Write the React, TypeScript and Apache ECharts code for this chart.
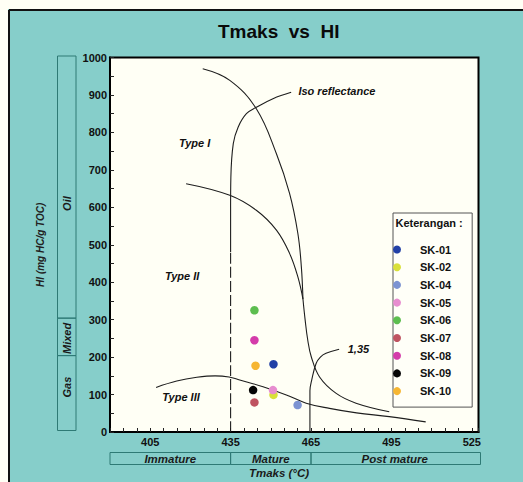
import React, { useEffect, useRef } from 'react';
import * as echarts from 'echarts';

// ---- Samples (Tmax vs HI) ----
const SAMPLES = ['SK-01', 'SK-02', 'SK-04', 'SK-05', 'SK-06', 'SK-07', 'SK-08', 'SK-09', 'SK-10'];
const TMAX = [451, 451, 460, 450.8, 443.9, 443.9, 443.9, 443.4, 444.3];
const HI = [181, 99, 72, 112, 325, 79, 245, 112, 177];
const COLORS = ['#2140A6', '#D9E03A', '#7C93D2', '#E78DCF', '#5DBE4F', '#BF5360', '#D43CAA', '#050505', '#F6B632'];

// ---- Kerogen type / iso-reflectance curves ----
const TYPE_I = [[424.6, 970], [434.7, 939], [444.6, 863], [452.1, 743], [457.0, 637], [460.1, 530], [461.4, 441], [462.0, 355]];
const TYPE_II = [[418.4, 663], [434.7, 632], [444.6, 592], [452.1, 539], [457.0, 477], [460.1, 414], [462.0, 355]];
const TYPE_I_II_TAIL = [[462.0, 355], [462.8, 300], [463.8, 245], [465.1, 201], [468.2, 147], [474.4, 103], [481.8, 77], [494.2, 54]];
const TYPE_III = [[407.2, 119], [414.9, 136], [422.4, 146], [429.2, 150], [434.4, 147], [438.4, 139], [447.1, 121], [455.8, 99], [463.2, 77], [471.9, 63], [482, 51], [494.2, 41], [507.8, 27]];
const ISO_DASHED = [[435, 0], [435, 480]];
const ISO_SOLID = [[435, 480], [435, 600], [435.1, 680], [436, 770], [437.8, 814], [440.9, 850], [444.6, 867], [450.8, 890], [457.6, 907]];
const ISO_135 = [[464.6, 0], [464.6, 110], [465.3, 140], [466.9, 183], [468.5, 200], [470.6, 210], [475.5, 221]];

// ---- Curve labels (left anchored, data coords) ----
const CURVE_LABELS = ['Type I', 'Type II', 'Type III', 'Iso reflectance', '1,35'];
const CURVE_LABEL_X = [415.7, 410.5, 409.5, 460.3, 478.7];
const CURVE_LABEL_Y = [772, 417, 93, 910, 222];

// ---- Zones ----
const HI_ZONES = ['Oil', 'Mixed', 'Gas'];
const HI_ZONE_FROM = [300, 200, 0];
const HI_ZONE_TO = [1000, 300, 200];
const HI_ZONE_LABEL_AT = [610, 250, 120];

const MATURITY = ['Immature', 'Mature', 'Post mature'];
const MATURITY_FROM = [390, 435, 465];
const MATURITY_TO = [435, 465, 527.5];

const X_LABELS = [405, 435, 465, 495, 525];
const Y_LABELS = [0, 100, 200, 300, 400, 500, 600, 700, 800, 900, 1000];

const FONT = '"Liberation Sans", Arial, Helvetica, sans-serif';
const TEAL = '#86CECA';
const CREAM = '#FFFFF5';
const ZONE_STROKE = '#2E7A75';

export default function App() {
  const ref = useRef<HTMLDivElement>(null);

  useEffect(() => {
    const el = ref.current as HTMLDivElement;
    const chart = echarts.init(el, undefined, { renderer: 'svg' });

    const lineSeries = (data: number[][], dashed = false) => ({
      type: 'line',
      data,
      smooth: 0.4,
      showSymbol: false,
      symbol: 'none',
      silent: true,
      z: 1,
      lineStyle: { color: '#1e1e1e', width: 1.1, type: dashed ? [11, 3] : 'solid' },
    });

    chart.setOption({
      animation: false,
      backgroundColor: TEAL,
      title: {
        text: 'Tmaks  vs  HI',
        left: 218,
        top: 22,
        padding: 0,
        textStyle: { fontSize: 19, fontWeight: 'bold', color: '#0a0a0a', fontFamily: FONT },
      },
      grid: {
        left: 110,
        top: 57.5,
        right: 44.5,
        bottom: 50,
        show: true,
        backgroundColor: CREAM,
        borderColor: '#000',
        borderWidth: 2,
      },
      xAxis: {
        type: 'value',
        min: 390,
        max: 527.5,
        interval: 5,
        splitLine: { show: false },
        axisLine: { show: true, lineStyle: { color: '#000', width: 2 } },
        axisTick: { show: true, inside: true, length: 4, lineStyle: { color: '#222', width: 1 } },
        axisLabel: {
          margin: 4,
          formatter: (v: number) => (X_LABELS.indexOf(v) >= 0 ? String(v) : ''),
          fontSize: 11,
          fontWeight: 'bold',
          color: '#111',
          fontFamily: FONT,
        },
      },
      yAxis: {
        type: 'value',
        min: 0,
        max: 1000,
        interval: 50,
        name: 'HI (mg HC/g TOC)',
        nameLocation: 'middle',
        nameRotate: 90,
        nameGap: 65,
        nameTextStyle: { fontSize: 10, fontWeight: 'bold', fontStyle: 'italic', color: '#222', fontFamily: FONT },
        splitLine: { show: false },
        axisLine: { show: true, lineStyle: { color: '#000', width: 2 } },
        axisTick: { show: true, inside: true, length: 4, lineStyle: { color: '#222', width: 1 } },
        axisLabel: {
          margin: 3,
          formatter: (v: number) => (Y_LABELS.indexOf(v) >= 0 ? String(v) : ''),
          fontSize: 11,
          fontWeight: 'bold',
          color: '#111',
          fontFamily: FONT,
        },
      },
      legend: {
        data: SAMPLES,
        orient: 'vertical',
        left: 393,
        top: 213,
        padding: [31, 21, 10.5, 0],
        itemWidth: 20,
        itemHeight: 8,
        itemGap: 6.7,
        icon: 'circle',
        selectedMode: false,
        backgroundColor: '#FFFFF8',
        borderColor: '#555',
        borderWidth: 1,
        borderRadius: 0,
        textStyle: { fontSize: 11, fontWeight: 'bold', color: '#111', fontFamily: FONT, padding: [0, 0, 0, 8] },
      },
      series: [
        lineSeries(TYPE_I),
        lineSeries(TYPE_II),
        lineSeries(TYPE_I_II_TAIL),
        lineSeries(TYPE_III),
        lineSeries(ISO_DASHED, true),
        lineSeries(ISO_SOLID),
        lineSeries(ISO_135),
        ...SAMPLES.map((name, i) => ({
          type: 'scatter',
          name,
          data: [[TMAX[i], HI[i]]],
          symbolSize: 8.5,
          z: 3,
          itemStyle: { color: COLORS[i], opacity: 1 },
        })),
      ],
    });

    const px = (x: number, y: number) => chart.convertToPixel({ gridIndex: 0 }, [x, y]) as number[];
    const graphics: any[] = [];

    // page margin strips + frame border
    graphics.push({ type: 'rect', shape: { x: 0, y: 0, width: 523, height: 9 }, style: { fill: CREAM }, silent: true });
    graphics.push({ type: 'rect', shape: { x: 0, y: 0, width: 8, height: 482 }, style: { fill: CREAM }, silent: true });
    graphics.push({ type: 'line', shape: { x1: 9, y1: 10, x2: 523, y2: 10 }, style: { stroke: '#111', lineWidth: 2 }, silent: true });
    graphics.push({ type: 'line', shape: { x1: 9, y1: 10, x2: 9, y2: 482 }, style: { stroke: '#111', lineWidth: 2 }, silent: true });

    // HI zone boxes
    HI_ZONES.forEach((name, i) => {
      const top = px(390, HI_ZONE_TO[i])[1];
      const bot = px(390, HI_ZONE_FROM[i])[1];
      graphics.push({
        type: 'rect',
        shape: { x: 57.5, y: top - 1.5, width: 18.5, height: bot - top },
        style: { fill: 'transparent', stroke: ZONE_STROKE, lineWidth: 1 },
        silent: true,
      });
      graphics.push({
        type: 'text',
        x: 67,
        y: px(390, HI_ZONE_LABEL_AT[i])[1],
        rotation: Math.PI / 2,
        style: {
          text: name,
          align: 'center',
          verticalAlign: 'middle',
          fontSize: 11,
          fontWeight: 'bold',
          fontStyle: 'italic',
          fontFamily: FONT,
          fill: '#1a1a1a',
        },
        silent: true,
      });
    });

    // maturity boxes
    MATURITY.forEach((name, i) => {
      const x0 = px(MATURITY_FROM[i], 0)[0];
      const x1 = px(MATURITY_TO[i], 0)[0];
      graphics.push({
        type: 'rect',
        shape: { x: x0, y: 452.5, width: x1 - x0 + (i === MATURITY.length - 1 ? 2 : 0), height: 12 },
        style: { fill: 'transparent', stroke: ZONE_STROKE, lineWidth: 1 },
        silent: true,
      });
      graphics.push({
        type: 'text',
        x: (x0 + x1) / 2,
        y: 459,
        style: {
          text: name,
          align: 'center',
          verticalAlign: 'middle',
          fontSize: 11.5,
          fontWeight: 'bold',
          fontStyle: 'italic',
          fontFamily: FONT,
          fill: '#1a1a1a',
        },
        silent: true,
      });
    });

    // x axis title
    graphics.push({
      type: 'text',
      x: 279,
      y: 473,
      style: {
        text: 'Tmaks (°C)',
        align: 'center',
        verticalAlign: 'middle',
        fontSize: 11.5,
        fontWeight: 'bold',
        fontStyle: 'italic',
        fontFamily: FONT,
        fill: '#1a1a1a',
      },
      silent: true,
    });

    // curve labels
    CURVE_LABELS.forEach((t, i) => {
      const p = px(CURVE_LABEL_X[i], CURVE_LABEL_Y[i]);
      graphics.push({
        type: 'text',
        x: p[0],
        y: p[1],
        z: 10,
        style: {
          text: t,
          align: 'left',
          verticalAlign: 'middle',
          fontSize: 11,
          fontWeight: 'bold',
          fontStyle: 'italic',
          fontFamily: FONT,
          fill: '#111',
        },
        silent: true,
      });
    });

    // legend title
    graphics.push({
      type: 'text',
      x: 395.5,
      y: 222.5,
      z: 100,
      style: {
        text: 'Keterangan :',
        align: 'left',
        verticalAlign: 'middle',
        fontSize: 11,
        fontWeight: 'bold',
        fontFamily: FONT,
        fill: '#111',
      },
      silent: true,
    });

    chart.setOption({ graphic: graphics });

    return () => {
      chart.dispose();
    };
  }, []);

  return <div ref={ref} style={{ position: 'absolute', left: 0, top: 0, width: 523, height: 482 }} />;
}
